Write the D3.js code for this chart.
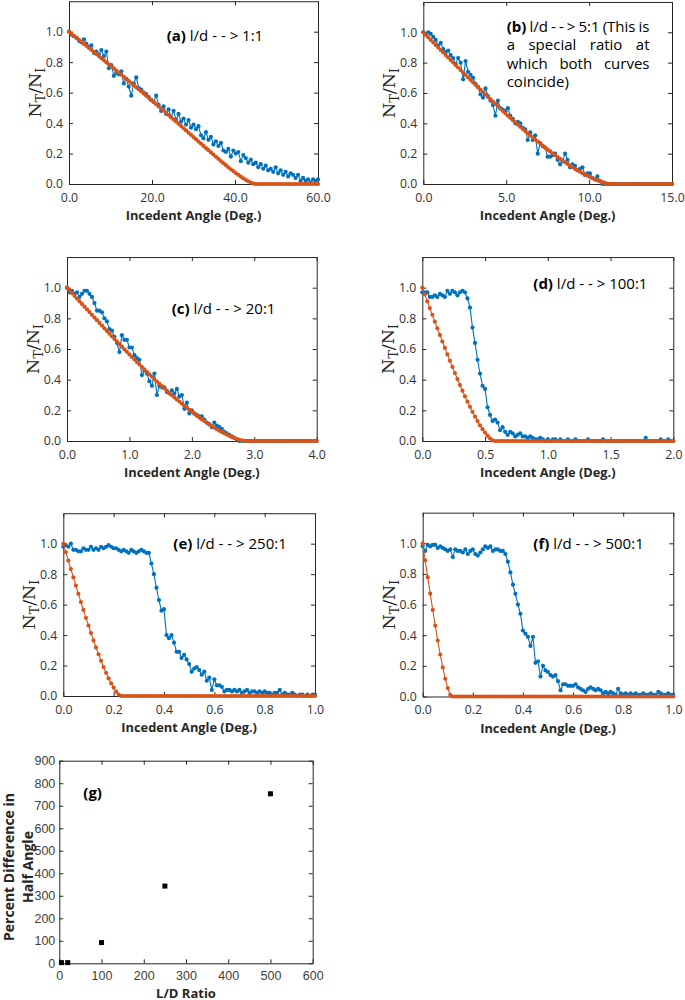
<!DOCTYPE html>
<html><head><meta charset="utf-8">
<script src="https://cdn.jsdelivr.net/npm/d3@7"></script>
<style>body{margin:0;background:#fff}svg{display:block}text{white-space:pre}</style>
</head><body><svg id="c" width="685" height="1000"></svg>
<script>
// ---------------- DATA ----------------
const yTicks = [0, 0.2, 0.4, 0.6, 0.8, 1.0];
const aTicks = [0, 20, 40, 60];
const bTicks = [0, 5, 10, 15];
const cTicks = [0, 1, 2, 3, 4];
const dTicks = [0, 0.5, 1.0, 1.5, 2.0];
const eTicks = [0, 0.2, 0.4, 0.6, 0.8, 1.0];
const fTicks = [0, 0.2, 0.4, 0.6, 0.8, 1.0];
const gXTicks = [0, 100, 200, 300, 400, 500, 600];
const gYTicks = [0, 100, 200, 300, 400, 500, 600, 700, 800, 900];

// angle step (deg) between samples of each panel
const aStep = 0.6, bStep = 0.15, cStep = 0.04, dStep = 0.02, eStep = 0.01, fStep = 0.01;

const aOrange = [1.000,0.987,0.973,0.960,0.947,0.933,0.920,0.907,0.893,0.880,
0.867,0.853,0.840,0.826,0.813,0.799,0.786,0.772,0.759,0.745,
0.732,0.718,0.704,0.690,0.677,0.663,0.649,0.635,0.622,0.608,
0.594,0.580,0.566,0.552,0.538,0.524,0.509,0.495,0.481,0.467,
0.453,0.438,0.424,0.410,0.395,0.381,0.366,0.352,0.337,0.323,
0.308,0.294,0.279,0.265,0.250,0.236,0.222,0.207,0.193,0.179,
0.165,0.151,0.137,0.124,0.110,0.097,0.085,0.072,0.060,0.049,
0.037,0.027,0.018,0.010,0.004,0,0,0,0,0,
0,0,0,0,0,0,0,0,0,0,
0,0,0,0,0,0,0,0,0,0,
0];
const aBlue = [1.00,0.98,0.97,0.96,0.94,0.93,0.95,0.92,0.90,0.91,
0.86,0.87,0.85,0.88,0.84,0.87,0.76,0.78,0.71,0.73,
0.72,0.74,0.66,0.69,0.64,0.58,0.66,0.70,0.63,0.62,
0.60,0.59,0.57,0.55,0.54,0.58,0.52,0.48,0.51,0.46,
0.49,0.44,0.48,0.42,0.46,0.41,0.43,0.39,0.42,0.37,
0.39,0.36,0.38,0.32,0.30,0.34,0.29,0.31,0.26,0.28,
0.25,0.27,0.22,0.21,0.23,0.18,0.22,0.20,0.21,0.15,
0.19,0.17,0.14,0.16,0.13,0.14,0.11,0.13,0.10,0.12,
0.09,0.10,0.08,0.11,0.07,0.09,0.06,0.08,0.05,0.07,
0.06,0.04,0.06,0.02,0.04,0.02,0.03,0.01,0.03,0.02,
0.03];

const bOrange = [1.000,0.983,0.967,0.950,0.933,0.917,0.900,0.883,0.867,0.850,
0.834,0.817,0.801,0.784,0.768,0.751,0.735,0.719,0.702,0.686,
0.670,0.654,0.638,0.622,0.606,0.590,0.574,0.559,0.543,0.528,
0.512,0.496,0.481,0.466,0.451,0.436,0.421,0.406,0.392,0.377,
0.363,0.349,0.335,0.321,0.307,0.293,0.280,0.267,0.253,0.240,
0.227,0.215,0.202,0.190,0.178,0.166,0.155,0.143,0.132,0.121,
0.111,0.100,0.091,0.081,0.071,0.063,0.055,0.046,0.038,0.031,
0.024,0.018,0.012,0.007,0.003,0.001,0,0,0,0,
0,0,0,0,0,0,0,0,0,0,
0,0,0,0,0,0,0,0,0,0,
0];
const bBlue = [1.00,0.99,1.00,0.99,0.97,0.95,0.91,0.93,0.89,0.87,
0.88,0.85,0.83,0.79,0.83,0.80,0.69,0.81,0.74,0.72,
0.70,0.66,0.64,0.59,0.57,0.63,0.58,0.55,0.52,0.45,
0.55,0.50,0.49,0.48,0.50,0.45,0.43,0.40,0.41,0.40,
0.37,0.36,0.29,0.34,0.29,0.32,0.20,0.27,0.25,0.24,
0.18,0.18,0.19,0.20,0.16,0.13,0.15,0.20,0.16,0.11,
0.13,0.12,0.09,0.10,0.11,0.06,0.07,0.07,0.04,0.03,
0.05,0.02,0,0,0,0,0,0,0,0,
0,0,0,0,0,0,0,0,0,0,
0,0,0,0,0,0,0,0,0,0,
0];

const cOrange = [1.000,0.982,0.965,0.947,0.929,0.911,0.894,0.876,0.858,0.841,
0.823,0.805,0.788,0.770,0.753,0.735,0.718,0.701,0.683,0.666,
0.649,0.632,0.615,0.598,0.582,0.565,0.548,0.532,0.515,0.499,
0.483,0.467,0.451,0.435,0.419,0.404,0.388,0.373,0.358,0.343,
0.328,0.313,0.299,0.284,0.271,0.257,0.243,0.229,0.216,0.203,
0.190,0.178,0.165,0.153,0.141,0.130,0.119,0.107,0.097,0.087,
0.077,0.067,0.059,0.050,0.042,0.034,0.026,0.020,0.014,0.008,
0.004,0.001,0,0,0,0,0,0,0,0,
0,0,0,0,0,0,0,0,0,0,
0,0,0,0,0,0,0,0,0,0,
0];
const cBlue = [1.00,0.97,0.98,0.96,0.97,0.94,0.96,0.98,0.98,0.96,
0.94,0.90,0.85,0.85,0.84,0.80,0.78,0.73,0.72,0.68,
0.64,0.58,0.69,0.66,0.66,0.61,0.61,0.56,0.54,0.53,
0.43,0.46,0.44,0.39,0.36,0.44,0.30,0.36,0.35,0.35,
0.32,0.31,0.33,0.31,0.34,0.29,0.30,0.21,0.25,0.18,
0.20,0.18,0.17,0.16,0.16,0.14,0.12,0.11,0.09,0.12,
0.10,0.09,0.08,0.06,0.05,0.04,0.03,0.02,0.01,0,
0,0,0,0,0,0,0,0,0,0,
0,0,0,0,0,0,0,0,0,0,
0,0,0,0,0,0,0,0,0,0,
0];

const dOrange = [1.000,0.956,0.911,0.867,0.823,0.779,0.735,0.692,0.649,0.607,
0.565,0.524,0.483,0.443,0.404,0.365,0.328,0.292,0.257,0.223,
0.190,0.159,0.130,0.102,0.077,0.055,0.034,0.017,0.004,0,
0,0,0,0,0,0,0,0,0,0,
0,0,0,0,0,0,0,0,0,0,
0,0,0,0,0,0,0,0,0,0,
0,0,0,0,0,0,0,0,0,0,
0,0,0,0,0,0,0,0,0,0,
0,0,0,0,0,0,0,0,0,0,
0,0,0,0,0,0,0,0,0,0,
0];
const dBlue = [0.97,0.97,0.97,0.94,0.94,0.95,0.94,0.96,0.95,0.94,
0.98,0.96,0.98,0.97,0.95,0.97,0.98,0.97,0.93,0.87,
0.74,0.64,0.53,0.44,0.36,0.34,0.22,0.17,0.13,0.14,
0.12,0.07,0.09,0.06,0.04,0.06,0.05,0.03,0.04,0.05,
0.03,0.03,0.02,0.03,0.02,0.01,0.01,0.02,0.01,0.00,
0.01,0.00,0.01,0.01,0.00,0.01,0.00,0.00,0.01,0.00,
0.00,0.01,0.00,0.00,0.00,0.00,0.01,0.00,0.00,0.00,
0.00,0.00,0.01,0.00,0.00,0.00,0.00,0.00,0.00,0.00,
0.00,0.00,0.00,0.00,0.00,0.00,0.00,0.00,0.00,0.02,
0.00,0.00,0.00,0.00,0.00,0.01,0.00,0.00,0.01,0.00,
0.00];

const eOrange = [1.000,0.945,0.889,0.834,0.779,0.725,0.671,0.617,0.565,0.513,
0.463,0.413,0.365,0.319,0.274,0.231,0.190,0.152,0.116,0.083,
0.055,0.029,0.010,0,0,0,0,0,0,0,
0,0,0,0,0,0,0,0,0,0,
0,0,0,0,0,0,0,0,0,0,
0,0,0,0,0,0,0,0,0,0,
0,0,0,0,0,0,0,0,0,0,
0,0,0,0,0,0,0,0,0,0,
0,0,0,0,0,0,0,0,0,0,
0,0,0,0,0,0,0,0,0,0,
0];
const eBlue = [0.98,0.99,0.98,1.00,0.96,0.96,0.95,0.95,0.97,0.96,
0.96,0.98,0.96,0.97,0.96,0.98,0.97,0.98,0.99,0.98,
0.97,0.97,0.96,0.95,0.96,0.95,0.94,0.96,0.95,0.94,
0.95,0.96,0.95,0.94,0.94,0.87,0.80,0.71,0.63,0.56,
0.57,0.40,0.38,0.40,0.35,0.29,0.29,0.25,0.27,0.24,
0.21,0.16,0.18,0.19,0.17,0.14,0.16,0.10,0.12,0.04,
0.11,0.07,0.07,0.06,0.03,0.04,0.04,0.03,0.04,0.03,
0.04,0.02,0.03,0.04,0.02,0.03,0.03,0.02,0.03,0.02,
0.03,0.02,0.02,0.01,0.02,0.02,0.04,0.01,0.02,0.01,
0.01,0.02,0.01,0.00,0.01,0.01,0.00,0.01,0.00,0.01,
0.01];

const fOrange = [1.000,0.889,0.779,0.671,0.565,0.463,0.365,0.274,0.190,0.116,
0.055,0.010,0,0,0,0,0,0,0,0,
0,0,0,0,0,0,0,0,0,0,
0,0,0,0,0,0,0,0,0,0,
0,0,0,0,0,0,0,0,0,0,
0,0,0,0,0,0,0,0,0,0,
0,0,0,0,0,0,0,0,0,0,
0,0,0,0,0,0,0,0,0,0,
0,0,0,0,0,0,0,0,0,0,
0,0,0,0,0,0,0,0,0,0,
0];
const fBlue = [0.98,0.95,0.99,0.98,0.99,0.99,0.97,0.98,0.97,0.96,
0.95,0.96,0.91,0.96,0.95,0.95,0.94,0.96,0.93,0.95,
0.96,0.93,0.92,0.94,0.96,0.98,0.97,0.98,0.95,0.96,
0.96,0.95,0.95,0.93,0.88,0.81,0.73,0.67,0.60,0.54,
0.43,0.41,0.39,0.33,0.39,0.22,0.23,0.13,0.20,0.17,
0.16,0.14,0.13,0.14,0.10,0.04,0.08,0.08,0.07,0.07,
0.07,0.08,0.06,0.05,0.04,0.03,0.05,0.06,0.05,0.04,
0.05,0.04,0.02,0.03,0.02,0.03,0.02,0.01,0.05,0.02,
0.01,0.02,0.01,0.02,0.01,0.02,0.01,0.01,0.02,0.01,
0.01,0.02,0.01,0.01,0.03,0.02,0.01,0.01,0.02,0.01,
0.01];

const gRatio = [5, 20, 100, 250, 500];
const gDiff  = [3, 3, 92, 343, 753];

// ---------------- DRAWING ----------------
const svg = d3.select('#c');
const BLUE = '#0072BD', ORANGE = '#D95319', AX = '#262626';
const TF = "'Open Sans', sans-serif";

function framedAxes(x, y, xt, yt, fmtX, fmtY, o) {
  const [x0, x1] = x.range(), [yb, ytop] = y.range();
  const mk = (axis, tx, ty) => {
    const g = svg.append('g').attr('transform', `translate(${tx},${ty})`).call(axis)
      .attr('font-family', o.font).attr('font-size', o.size).attr('color', AX);
    g.selectAll('.tick text').attr('fill', o.textColor);
    g.selectAll('path.domain, .tick line').attr('stroke-width', 1);
    return g;
  };
  const none = () => '';
  mk(d3.axisBottom(x).tickValues(xt).tickFormat(fmtX).tickSize(-4).tickSizeOuter(0).tickPadding(o.xpad), 0, yb);
  mk(d3.axisTop(x).tickValues(xt).tickFormat(none).tickSize(-4).tickSizeOuter(0), 0, ytop);
  mk(d3.axisLeft(y).tickValues(yt).tickFormat(fmtY).tickSize(-4).tickSizeOuter(0).tickPadding(o.ypad), x0, 0);
  mk(d3.axisRight(y).tickValues(yt).tickFormat(none).tickSize(-4).tickSizeOuter(0), x1, 0);
}

const panels = [
  {tag:'(a)', txt:' l/d - - > 1:1', left:69, right:318, y0:184, y1:31.7, xmax:60, ticks:aTicks, step:aStep, blue:aBlue, orange:aOrange, tx:166.7, ty:40.5},
  {tag:'(b)', txt:null, left:423.3, right:672, y0:184, y1:32.3, xmax:15, ticks:bTicks, step:bStep, blue:bBlue, orange:bOrange},
  {tag:'(c)', txt:' l/d - - > 20:1', left:67, right:316.7, y0:441, y1:287.7, xmax:4, ticks:cTicks, step:cStep, blue:cBlue, orange:cOrange, tx:171.7, ty:313.7},
  {tag:'(d)', txt:' l/d - - > 100:1', left:422.3, right:673.3, y0:441, y1:287.7, xmax:2, ticks:dTicks, step:dStep, blue:dBlue, orange:dOrange, tx:533.3, ty:288.7},
  {tag:'(e)', txt:' l/d - - > 250:1', left:63.3, right:315, y0:696, y1:543.7, xmax:1, ticks:eTicks, step:eStep, blue:eBlue, orange:eOrange, tx:173.3, ty:548.7},
  {tag:'(f)', txt:' l/d - - > 500:1', left:422.7, right:673.3, y0:696.5, y1:543.3, xmax:1, ticks:fTicks, step:fStep, blue:fBlue, orange:fOrange, tx:533.3, ty:548.7}
];

panels.forEach(p => {
  const unit = p.y0 - p.y1;
  const x = d3.scaleLinear().domain([0, p.xmax]).range([p.left, p.right]);
  const y = d3.scaleLinear().domain([0, 1.2]).range([p.y0, p.y0 - 1.2 * unit]);
  framedAxes(x, y, p.ticks, yTicks, d3.format('.1f'), d3.format('.1f'),
    {font: TF, size: 12.3, textColor: '#333', xpad: 9, ypad: 6});

  [[p.blue, BLUE], [p.orange, ORANGE]].forEach(([vals, col]) => {
    const pts = vals.map((v, i) => [i * p.step, v]);
    const g = svg.append('g');
    g.append('path').datum(pts).attr('fill', 'none').attr('stroke', col).attr('stroke-width', 1.1)
      .attr('d', d3.line().x(d => x(d[0])).y(d => y(d[1])));
    g.selectAll('circle').data(pts).enter().append('circle')
      .attr('cx', d => x(d[0])).attr('cy', d => y(d[1])).attr('r', 2.1).attr('fill', col);
  });

  const yl = svg.append('text')
    .attr('transform', `translate(${p.left - 28},${(p.y0 + p.y0 - 1.2 * unit) / 2}) rotate(-90)`)
    .attr('text-anchor', 'middle').attr('font-family', "'DejaVu Serif', serif").attr('font-size', 17.5).attr('fill', AX);
  yl.append('tspan').text('N');
  yl.append('tspan').attr('dy', 4).attr('font-size', 12.5).text('T');
  yl.append('tspan').attr('dy', -4).text('/N');
  yl.append('tspan').attr('dy', 4).attr('font-size', 12.5).text('I');

  svg.append('text').attr('x', (p.left + p.right) / 2).attr('y', p.y0 + 36)
    .attr('text-anchor', 'middle').attr('font-family', TF).attr('font-weight', 700).attr('font-size', 12.8)
    .attr('fill', AX).text('Incedent Angle (Deg.)');

  if (p.txt) {
    const t = svg.append('text').attr('x', p.tx).attr('y', p.ty).attr('font-family', TF).attr('font-size', 15).attr('fill', '#000');
    t.append('tspan').attr('font-weight', 700).text(p.tag);
    t.append('tspan').text(p.txt);
  }
});

// justified annotation for (b)
(function () {
  const lines = [
    [{t:'(b)', b:true}, {t:'l/d'}, {t:'-'}, {t:'-'}, {t:'>'}, {t:'5:1'}, {t:'(This'}, {t:'is'}],
    [{t:'a'}, {t:'special'}, {t:'ratio'}, {t:'at'}],
    [{t:'which'}, {t:'both'}, {t:'curves'}],
    [{t:'coincide)'}]
  ];
  const x0 = 506.7, x1 = 649.5, yb = 32, lh = 18.4, size = 15;
  lines.forEach((words, li) => {
    const els = words.map(w => svg.append('text').attr('y', yb + li * lh).attr('font-family', TF)
      .attr('font-size', size).attr('font-weight', w.b ? 700 : 400).attr('fill', '#000').text(w.t));
    const widths = els.map(e => e.node().getComputedTextLength());
    const tot = d3.sum(widths);
    const last = li === lines.length - 1;
    const gap = (last || words.length < 2) ? size * 0.26 : (x1 - x0 - tot) / (words.length - 1);
    let cx = x0;
    els.forEach((e, i) => { e.attr('x', cx); cx += widths[i] + gap; });
  });
})();

// ---------------- panel (g) ----------------
(function () {
  const x = d3.scaleLinear().domain([0, 600]).range([59.3, 312.7]);
  const y = d3.scaleLinear().domain([0, 900]).range([963.3, 760.7]);
  framedAxes(x, y, gXTicks, gYTicks, d3.format('d'), d3.format('d'),
    {font: "'Liberation Sans', Arial, sans-serif", size: 12.5, textColor: '#404040', xpad: 7.5, ypad: 4});
  const s = 5;
  svg.append('g').selectAll('rect').data(gRatio.map((r, i) => [r, gDiff[i]])).enter().append('rect')
    .attr('x', d => x(d[0]) - s / 2).attr('y', d => y(d[1]) - s / 2).attr('width', s).attr('height', s).attr('fill', '#000');
  svg.append('text').attr('x', 83.3).attr('y', 798).attr('font-family', TF).attr('font-weight', 700)
    .attr('font-size', 15).attr('fill', '#000').text('(g)');
  svg.append('text').attr('x', 186).attr('y', 997.5).attr('text-anchor', 'middle').attr('font-family', TF)
    .attr('font-weight', 700).attr('font-size', 13).attr('fill', AX).text('L/D Ratio');
  const yl = svg.append('text').attr('transform', 'translate(0,867) rotate(-90)').attr('text-anchor', 'middle')
    .attr('font-family', TF).attr('font-weight', 700).attr('font-size', 14).attr('fill', AX);
  yl.append('tspan').attr('x', 0).attr('y', 14).text('Percent Difference in');
  yl.append('tspan').attr('x', 0).attr('y', 33).text('Half Angle');
})();
</script></body></html>
